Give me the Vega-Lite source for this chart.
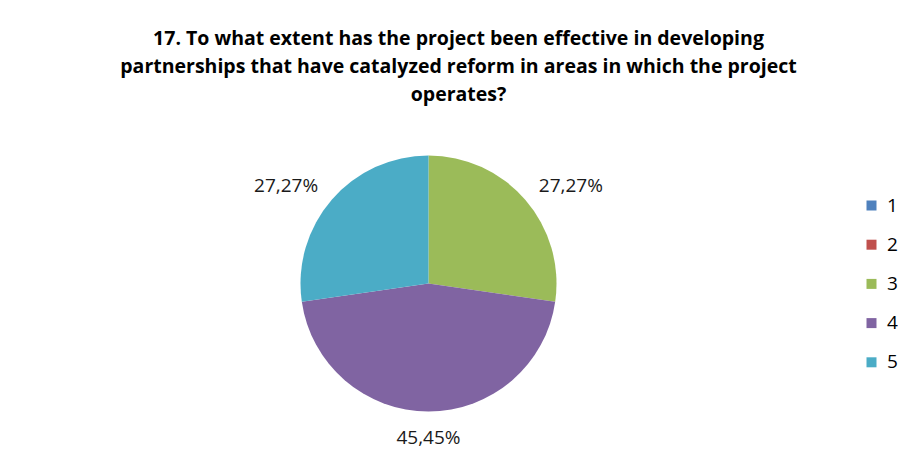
{
  "$schema": "https://vega.github.io/schema/vega-lite/v6.json",
  "width": 857,
  "height": 339,
  "autosize": {"type": "none"},
  "padding": {"left": 0, "top": 114, "right": 41, "bottom": 0},
  "background": "white",
  "title": {
    "text": [
      "17. To what extent has the project been effective in developing",
      "partnerships that have catalyzed reform in areas in which the project",
      "operates?"
    ],
    "font": "Open Sans",
    "fontSize": 19.5,
    "fontWeight": "bold",
    "color": "#000000",
    "lineHeight": 28,
    "anchor": "middle",
    "dx": 30,
    "offset": 9
  },
  "data": {
    "values": [
      {"category": "1", "percent": 0, "label": "0,00%"},
      {"category": "2", "percent": 0, "label": "0,00%"},
      {"category": "3", "percent": 27.27, "label": "27,27%"},
      {"category": "4", "percent": 45.45, "label": "45,45%"},
      {"category": "5", "percent": 27.27, "label": "27,27%"}
    ]
  },
  "encoding": {
    "theta": {"field": "percent", "type": "quantitative", "stack": true},
    "order": {"field": "category", "type": "ordinal"}
  },
  "layer": [
    {
      "mark": {"type": "arc", "outerRadius": 128, "strokeWidth": 0},
      "encoding": {
        "color": {
          "field": "category",
          "type": "nominal",
          "scale": {
            "domain": ["1", "2", "3", "4", "5"],
            "range": ["#4F81BD", "#C0504D", "#9BBB59", "#8064A2", "#4BACC6"]
          },
          "legend": {
            "orient": "none",
            "legendX": 862,
            "legendY": 82,
            "title": null,
            "symbolType": "square",
            "symbolSize": 100,
            "symbolStrokeWidth": 0,
            "labelFont": "Open Sans",
            "labelFontSize": 19,
            "labelColor": "#000000",
            "labelOffset": 6,
            "rowPadding": 19.2,
            "padding": 0
          }
        }
      }
    },
    {
      "mark": {"type": "text", "radius": 154, "dx": 26, "dy": 3, "font": "Open Sans", "fontSize": 19, "color": "#1a1a1a", "baseline": "middle", "align": "center"},
      "encoding": {
        "text": {"condition": {"test": "datum.category === '3'", "field": "label"}, "value": ""}
      }
    },
    {
      "mark": {"type": "text", "radius": 154, "dx": 0, "dy": 0, "font": "Open Sans", "fontSize": 19, "color": "#1a1a1a", "baseline": "middle", "align": "center"},
      "encoding": {
        "text": {"condition": {"test": "datum.category === '4'", "field": "label"}, "value": ""}
      }
    },
    {
      "mark": {"type": "text", "radius": 154, "dx": -26, "dy": 3, "font": "Open Sans", "fontSize": 19, "color": "#1a1a1a", "baseline": "middle", "align": "center"},
      "encoding": {
        "text": {"condition": {"test": "datum.category === '5'", "field": "label"}, "value": ""}
      }
    }
  ],
  "config": {"view": {"stroke": null}}
}
